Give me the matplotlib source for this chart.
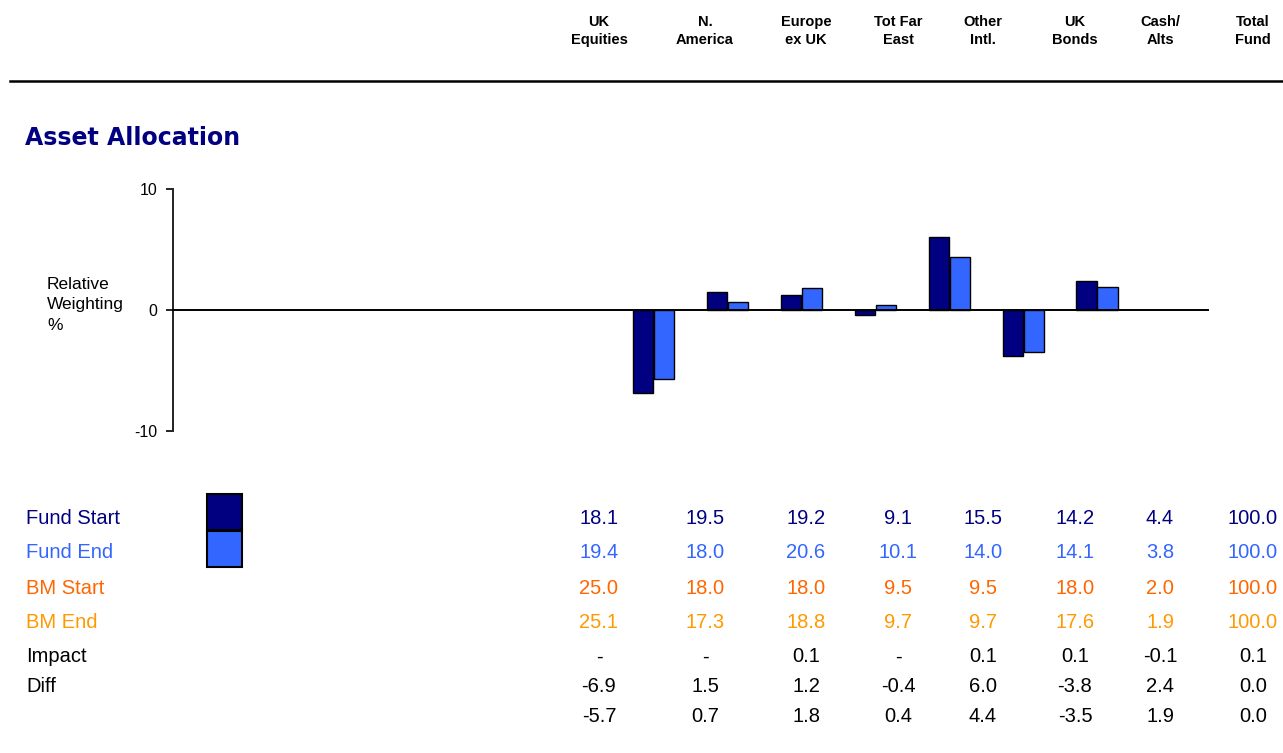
import matplotlib
matplotlib.use("Agg")
import matplotlib.pyplot as plt
import numpy as np
from matplotlib.patches import Rectangle

# ---- data ----
columns = ["UK\nEquities", "N.\nAmerica", "Europe\nex UK", "Tot Far\nEast",
           "Other\nIntl.", "UK\nBonds", "Cash/\nAlts", "Total\nFund"]
fund_start = [18.1, 19.5, 19.2, 9.1, 15.5, 14.2, 4.4, 100.0]
fund_end = [19.4, 18.0, 20.6, 10.1, 14.0, 14.1, 3.8, 100.0]
bm_start = [25.0, 18.0, 18.0, 9.5, 9.5, 18.0, 2.0, 100.0]
bm_end = [25.1, 17.3, 18.8, 9.7, 9.7, 17.6, 1.9, 100.0]
impact = ["-", "-", "0.1", "-", "0.1", "0.1", "-0.1", "0.1"]
diff_start = [-6.9, 1.5, 1.2, -0.4, 6.0, -3.8, 2.4, 0.0]
diff_end = [-5.7, 0.7, 1.8, 0.4, 4.4, -3.5, 1.9, 0.0]
yticks = [-10, 0, 10]

NAVY = "#000080"
BLUE = "#3366FF"
ORANGE = "#FF6600"
AMBER = "#FF9900"

W, H = 1283, 753
fig = plt.figure(figsize=(W / 100, H / 100), dpi=100, facecolor="white")


def fx(x):
    return x / W


def fy(y):
    return 1 - y / H


arial = ["Liberation Sans", "DejaVu Sans"]

# header row
col_x = [599, 705, 806, 898, 983, 1075, 1160, 1253]
for cx, lab in zip(col_x, columns):
    fig.text(fx(cx), fy(31), lab, ha="center", va="center", family=arial,
             fontsize=10.5, fontweight="bold", linespacing=1.35)
fig.add_artist(plt.Line2D([fx(10), fx(1283)], [fy(80.5), fy(80.5)],
                          color="black", lw=1.8))

fig.text(fx(25), fy(138), "Asset Allocation", ha="left", va="center",
         family="DejaVu Sans", fontweight="bold", fontsize=17, color=NAVY)

fig.text(fx(47), fy(305), "Relative\nWeighting\n%", ha="left", va="center",
         family=arial, fontsize=12.5, linespacing=1.45)

# ---- chart ----
ax = fig.add_axes([fx(173), fy(431), fx(1208) - fx(173), (431 - 189) / H])
n_slots = 14
x = np.arange(n_slots - len(columns), n_slots)
d0 = np.array(diff_start)
d1 = np.array(diff_end)
shown = (d0 != 0) | (d1 != 0)
bw = 0.275
ax.bar(x[shown] - 0.142, d0[shown], bw, color=NAVY, edgecolor="black", lw=1.0)
ax.bar(x[shown] + 0.142, d1[shown], bw, color=BLUE, edgecolor="black", lw=1.0)
ax.set_xlim(-0.5, n_slots - 0.5)
ax.set_ylim(-10, 10)
ax.set_yticks(yticks)
ax.set_yticklabels([str(t) for t in yticks], family=arial, fontsize=11.5)
ax.tick_params(axis="y", length=5, width=1.2, pad=6)
ax.set_xticks([])
for s in ["top", "right"]:
    ax.spines[s].set_visible(False)
ax.spines["bottom"].set_position(("data", 0))
ax.spines["bottom"].set_linewidth(1.4)
ax.spines["left"].set_linewidth(1.4)
ax.spines["left"].set_color("#222222")

# ---- table ----
rows = [
    ("Fund Start", fund_start, NAVY),
    ("Fund End", fund_end, BLUE),
    ("BM Start", bm_start, ORANGE),
    ("BM End", bm_end, AMBER),
    ("Impact", impact, "black"),
    ("Diff", diff_start, "black"),
    ("", diff_end, "black"),
]
row_y = [518, 553, 588, 623, 657, 687, 717]
for (label, vals, col), ry in zip(rows, row_y):
    fig.text(fx(26), fy(ry), label, ha="left", va="center", family=arial,
             fontsize=14.5, color=col)
    for cx, v in zip(col_x, vals):
        s = v if isinstance(v, str) else f"{v:.1f}"
        fig.text(fx(cx), fy(ry), s, ha="center", va="center", family=arial,
                 fontsize=14.5, color=col)

# legend swatches
for top, col in [(494, NAVY), (531, BLUE)]:
    fig.add_artist(Rectangle((fx(207), fy(top + 36)), fx(242) - fx(207), 36 / H,
                             facecolor=col, edgecolor="black", lw=1.5,
                             transform=fig.transFigure))

fig.savefig("out.png", dpi=100, facecolor="white")
